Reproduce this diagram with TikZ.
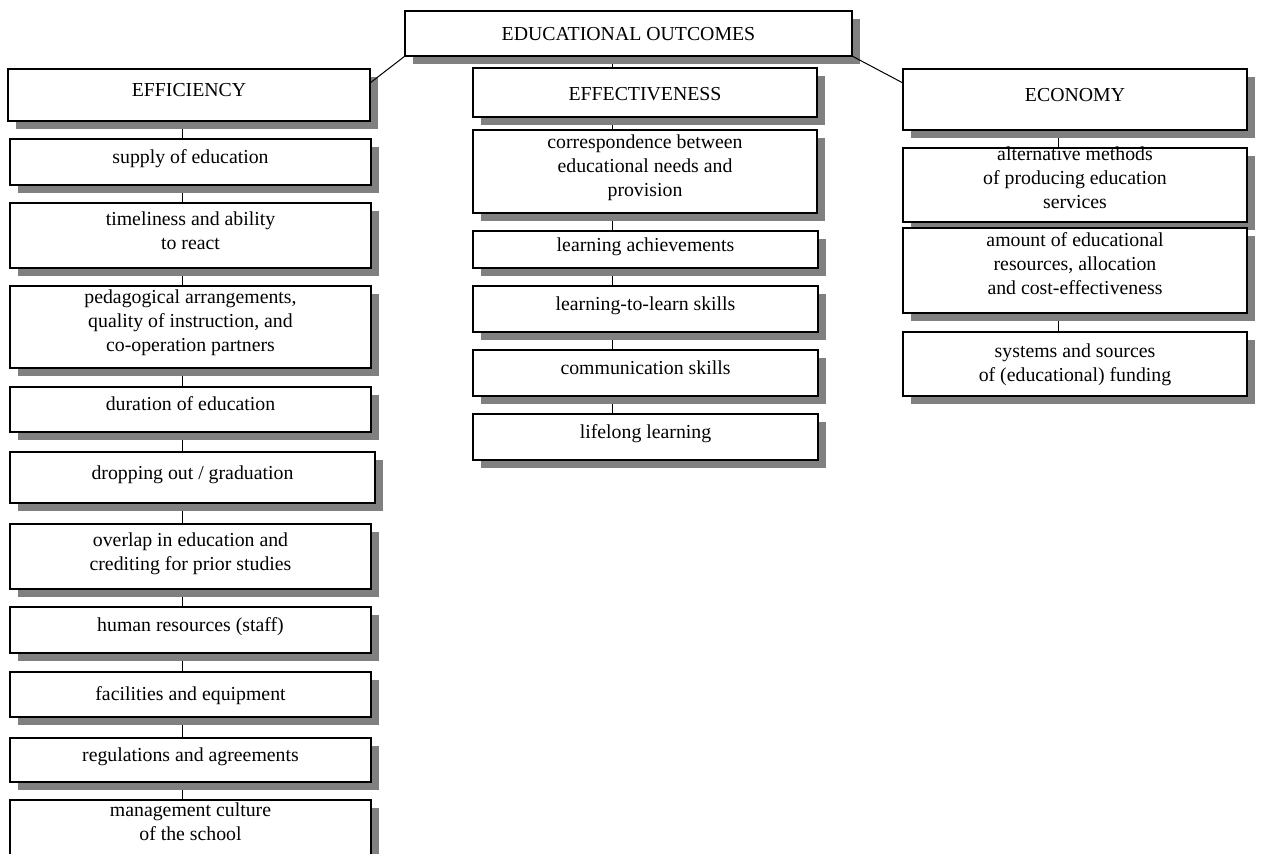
\documentclass[tikz,border=0pt]{standalone}
\usepackage{fontspec}
\setmainfont{Liberation Serif}
\usetikzlibrary{shadows,calc}
\pgfdeclarelayer{paper}
\pgfdeclarelayer{lines}
\pgfsetlayers{paper,lines,main}
\newcommand{\boxtxt}[2]{\raisebox{#1}[\height][\depth]{\begin{tabular}{@{}c@{}}#2\end{tabular}}}
\tikzset{
  bx/.style={draw=black, line width=1.3pt, fill=white, rectangle, inner sep=0pt, outer sep=0pt,
    font=\fontsize{19.8pt}{24pt}\selectfont,
    drop shadow={shadow xshift=7.5pt, shadow yshift=-7.5pt, fill=black!50, opacity=1}},
  conn/.style={draw=black, line width=1pt}
}
\begin{document}
\begin{tikzpicture}[x=1pt,y=-1pt]
\clip (0,0) rectangle (1261,854);
\begin{pgfonlayer}{paper}
\fill[white] (0,0) rectangle (1261,854);
\end{pgfonlayer}
\coordinate (cL) at (182,0);
\coordinate (cM) at (612,0);
\coordinate (cR) at (1058,0);
% top
\node[bx, minimum width=447pt, minimum height=45pt] (eo) at (628.5,33.5) {\boxtxt{-2.4pt}{EDUCATIONAL OUTCOMES}};
% left column
\node[bx, minimum width=362pt, minimum height=52pt] (eff) at (189,95) {\boxtxt{3pt}{EFFICIENCY}};
\node[bx, minimum width=361pt, minimum height=46pt] (sup) at (190.5,162) {\boxtxt{3pt}{supply of education}};
\node[bx, minimum width=361pt, minimum height=65pt] (tim) at (190.5,235.5) {\boxtxt{3pt}{timeliness and ability\\to react}};
\node[bx, minimum width=361pt, minimum height=82pt] (ped) at (190.5,327) {\boxtxt{4pt}{pedagogical arrangements,\\quality of instruction, and\\co-operation partners}};
\node[bx, minimum width=361pt, minimum height=45pt] (dur) at (190.5,409.5) {\boxtxt{3.5pt}{duration of education}};
\node[bx, minimum width=365pt, minimum height=51pt] (drp) at (192.5,477.5) {\boxtxt{3pt}{dropping out / graduation}};
\node[bx, minimum width=361pt, minimum height=65pt] (ovl) at (190.5,556.5) {\boxtxt{2.5pt}{overlap in education and\\crediting for prior studies}};
\node[bx, minimum width=361pt, minimum height=46pt] (hum) at (190.5,630) {\boxtxt{3pt}{human resources (staff)}};
\node[bx, minimum width=361pt, minimum height=45pt] (fac) at (190.5,694.5) {\boxtxt{-1.5pt}{facilities and equipment}};
\node[bx, minimum width=361pt, minimum height=44pt] (reg) at (190.5,760) {\boxtxt{3.5pt}{regulations and agreements}};
\node[bx, minimum width=361pt, minimum height=66pt] (man) at (190.5,833) {\boxtxt{9.5pt}{management culture\\of the school}};
% middle column
\node[bx, minimum width=344pt, minimum height=49pt] (efv) at (645,92.5) {\boxtxt{-3.5pt}{EFFECTIVENESS}};
\node[bx, minimum width=344pt, minimum height=83pt] (cor) at (645,171.5) {\boxtxt{4pt}{correspondence between\\educational needs and\\provision}};
\node[bx, minimum width=345pt, minimum height=37pt] (lac) at (645.5,249.5) {\boxtxt{3pt}{learning achievements}};
\node[bx, minimum width=345pt, minimum height=46pt] (ltl) at (645.5,309) {\boxtxt{3.3pt}{learning-to-learn skills}};
\node[bx, minimum width=345pt, minimum height=46pt] (com) at (645.5,373) {\boxtxt{3.4pt}{communication skills}};
\node[bx, minimum width=345pt, minimum height=46pt] (lif) at (645.5,437) {\boxtxt{3.4pt}{lifelong learning}};
% right column
\node[bx, minimum width=344pt, minimum height=61pt] (eco) at (1075,99.5) {\boxtxt{2.5pt}{ECONOMY}};
\node[bx, minimum width=344pt, minimum height=74pt] (alt) at (1075,185) {\boxtxt{5.5pt}{alternative methods\\of producing education\\services}};
\node[bx, minimum width=344pt, minimum height=85pt] (amt) at (1075,270.5) {\boxtxt{4.4pt}{amount of educational\\resources, allocation\\and cost-effectiveness}};
\node[bx, minimum width=344pt, minimum height=64pt] (sys) at (1075,364) {\boxtxt{-1pt}{systems and sources\\of (educational) funding}};
% connectors
\begin{pgfonlayer}{lines}
\foreach \a/\b in {eff/sup, sup/tim, tim/ped, ped/dur, dur/drp, drp/ovl, ovl/hum, hum/fac, fac/reg, reg/man}
  \draw[conn] (\a.south -| cL) -- (\b.north -| cL);
\foreach \a/\b in {eo/efv, efv/cor, cor/lac, lac/ltl, ltl/com, com/lif}
  \draw[conn] (\a.south -| cM) -- (\b.north -| cM);
\foreach \a/\b in {eco/alt, alt/amt, amt/sys}
  \draw[conn] (\a.south -| cR) -- (\b.north -| cR);
\end{pgfonlayer}
\draw[conn] ($(eff.north east)!0.27!(eff.south east)$) -- (eo.south west);
\draw[conn] (eo.south east) -- ($(eco.north west)!0.23!(eco.south west)$);
\end{tikzpicture}
\end{document}
